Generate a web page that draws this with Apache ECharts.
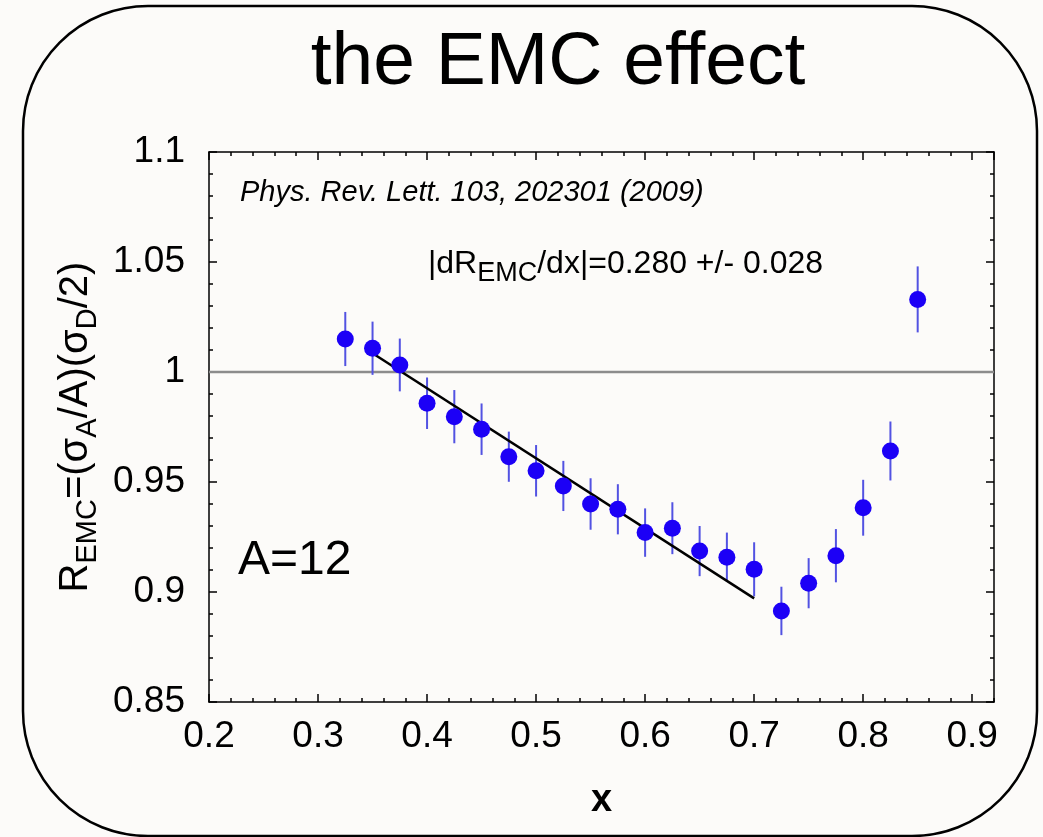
<!DOCTYPE html>
<html>
<head>
<meta charset="utf-8">
<script src="https://cdn.jsdelivr.net/npm/echarts@6/dist/echarts.min.js"></script>
<style>
html, body { margin: 0; padding: 0; background: #fcfbf9; }
#chart { width: 1043px; height: 837px; }
</style>
</head>
<body>
<div id="chart"></div>
<script>
// ---- data ----
const xValues = [0.325, 0.35, 0.375, 0.4, 0.425, 0.45, 0.475, 0.5, 0.525, 0.55, 0.575,
                 0.6, 0.625, 0.65, 0.675, 0.7, 0.725, 0.75, 0.775, 0.8, 0.825, 0.85];
const rValues = [1.015, 1.0108, 1.0032, 0.9858, 0.9797, 0.974, 0.9615, 0.9551, 0.9482, 0.94, 0.9376,
                 0.927, 0.929, 0.9186, 0.9158, 0.9103, 0.8914, 0.904, 0.9165, 0.9383, 0.9641, 1.033];
const rErrors = [0.0123, 0.0121, 0.012, 0.0117, 0.0121, 0.0117, 0.0114, 0.0117, 0.0114, 0.0117, 0.0114,
                 0.011, 0.0118, 0.0114, 0.0112, 0.0123, 0.011, 0.0114, 0.0121, 0.0127, 0.0134, 0.015];
const fitX = [0.35, 0.70];
const fitY = [1.0085, 0.8971];
const unityLevel = 1.0;
const xRange = [0.2, 0.92];
const yRange = [0.85, 1.1];
const xMajor = 0.1, xMinor = 0.02;
const yMajor = 0.05;

const FONT = 'Liberation Sans, Arial, Helvetica, sans-serif';

const points = xValues.map((x, i) => [x, rValues[i], rErrors[i]]);
const fitData = fitX.map((x, i) => [x, fitY[i]]);
const unityData = xRange.map(x => [x, unityLevel]);

const chart = echarts.init(document.getElementById('chart'), null, { renderer: 'canvas' });

const axisLineStyle = { color: '#000', width: 1.5 };

function xAxisDef(pos, interval, tickLen, withLine, withLabel) {
  return {
    type: 'value', gridIndex: 0, position: pos,
    min: xRange[0], max: xRange[1], interval: interval,
    axisLine: { show: withLine, onZero: false, lineStyle: axisLineStyle },
    axisTick: { show: true, inside: true, length: tickLen, lineStyle: { color: '#000', width: 1.5 } },
    axisLabel: withLabel ? {
      show: true, showMaxLabel: false, fontSize: 37, fontFamily: FONT, color: '#000', margin: 16
    } : { show: false },
    splitLine: { show: false }
  };
}

const option = {
  backgroundColor: '#fcfbf9',
  animation: false,
  grid: { left: 209, top: 152, width: 785, height: 550, containLabel: false },
  xAxis: [
    Object.assign(xAxisDef('bottom', xMajor, 8, true, true), {
      name: 'x', nameLocation: 'middle', nameGap: 80,
      nameTextStyle: { fontSize: 38, fontWeight: 'bold', fontFamily: FONT, color: '#000' }
    }),
    xAxisDef('bottom', xMinor, 4, false, false),
    xAxisDef('top', xMajor, 8, true, false),
    xAxisDef('top', xMinor, 4, false, false)
  ],
  yAxis: [
    {
      type: 'value', position: 'left', min: yRange[0], max: yRange[1], interval: yMajor,
      axisLine: { show: true, onZero: false, lineStyle: axisLineStyle },
      axisTick: { show: true, inside: true, length: 8, lineStyle: { color: '#000', width: 1.5 } },
      minorTick: { show: true, splitNumber: 5, length: 4, lineStyle: { color: '#000', width: 1.5 } },
      axisLabel: { fontSize: 37, fontFamily: FONT, color: '#000', margin: 24 },
      splitLine: { show: false },
      name: '{m|R}{s|EMC}{m|=(σ}{s|A}{m|/A)(σ}{s|D}{m|/2)}',
      nameLocation: 'middle', nameRotate: 90, nameGap: 100,
      nameTextStyle: {
        color: '#000', fontFamily: FONT,
        rich: {
          m: { fontSize: 40, lineHeight: 52, fontFamily: FONT, color: '#000' },
          s: { fontSize: 29, lineHeight: 24, verticalAlign: 'bottom', fontFamily: FONT, color: '#000' }
        }
      }
    },
    {
      type: 'value', position: 'right', min: yRange[0], max: yRange[1], interval: yMajor,
      axisLine: { show: true, onZero: false, lineStyle: axisLineStyle },
      axisTick: { show: true, inside: true, length: 8, lineStyle: { color: '#000', width: 1.5 } },
      minorTick: { show: true, splitNumber: 5, length: 4, lineStyle: { color: '#000', width: 1.5 } },
      axisLabel: { show: false },
      splitLine: { show: false }
    }
  ],
  graphic: [
    {
      type: 'rect', silent: true, z: 100,
      shape: { x: 23, y: 6, width: 1014, height: 830, r: 125 },
      style: { fill: 'none', stroke: '#000', lineWidth: 2.5 }
    },
    {
      type: 'text', x: 558, y: 63, z: 100,
      style: { text: 'the EMC effect', font: '75px ' + FONT, fill: '#000',
               textAlign: 'center', textVerticalAlign: 'middle' }
    },
    {
      type: 'text', x: 240, y: 193, z: 100,
      style: { text: 'Phys. Rev. Lett. 103, 202301 (2009)', font: 'italic 29px ' + FONT, fill: '#000',
               textAlign: 'left', textVerticalAlign: 'middle' }
    },
    {
      type: 'text', x: 428, y: 264, z: 100,
      style: {
        text: '{m||dR}{s|EMC}{m|/dx|=0.280 +/- 0.028}',
        textAlign: 'left', textVerticalAlign: 'middle', fill: '#000',
        rich: {
          m: { fontSize: 32, lineHeight: 46, fontFamily: FONT, fill: '#000' },
          s: { fontSize: 27, lineHeight: 20, verticalAlign: 'bottom', fontFamily: FONT, fill: '#000' }
        }
      }
    },
    {
      type: 'text', x: 238, y: 561, z: 100,
      style: { text: 'A=12', font: '48px ' + FONT, fill: '#000',
               textAlign: 'left', textVerticalAlign: 'middle' }
    }
  ],
  series: [
    {
      type: 'line', name: 'unity', xAxisIndex: 0, yAxisIndex: 0,
      data: unityData, symbol: 'none', z: 1, silent: true,
      lineStyle: { color: '#8c8c8c', width: 2.5 }
    },
    {
      type: 'custom', name: 'errors', xAxisIndex: 0, yAxisIndex: 0, z: 2, silent: true,
      data: points,
      encode: { x: 0, y: 1 },
      renderItem: function (params, api) {
        const x = api.value(0), y = api.value(1), e = api.value(2);
        const p1 = api.coord([x, y - e]);
        const p2 = api.coord([x, y + e]);
        return {
          type: 'line',
          shape: { x1: p1[0], y1: p1[1], x2: p2[0], y2: p2[1] },
          style: { stroke: '#5252e2', lineWidth: 2 }
        };
      }
    },
    {
      type: 'line', name: 'fit', xAxisIndex: 0, yAxisIndex: 0,
      data: fitData, symbol: 'none', z: 3, silent: true,
      lineStyle: { color: '#000', width: 2.5 }
    },
    {
      type: 'scatter', name: 'A=12', xAxisIndex: 0, yAxisIndex: 0, z: 4,
      data: points.map(p => [p[0], p[1]]),
      symbol: 'circle', symbolSize: 17,
      itemStyle: { color: '#1c00f6', opacity: 1 }
    }
  ]
};

chart.setOption(option);
</script>
</body>
</html>
